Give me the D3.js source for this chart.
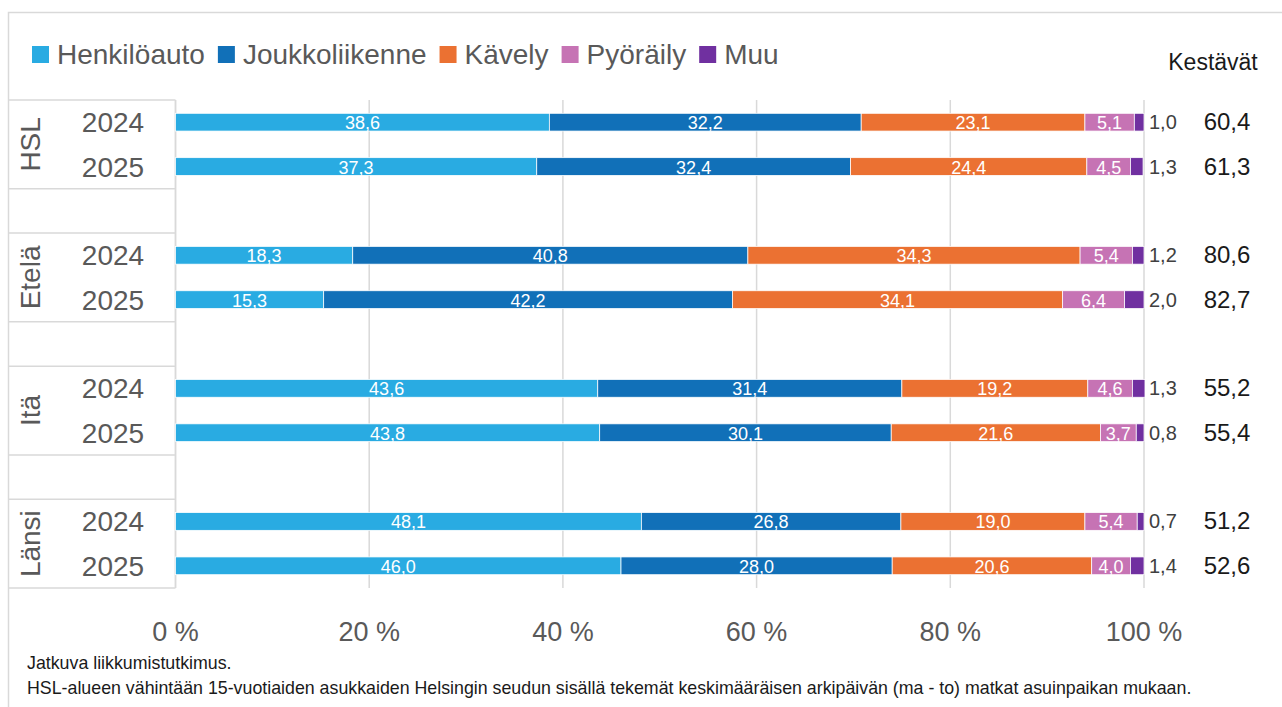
<!DOCTYPE html>
<html>
<head>
<meta charset="utf-8">
<script src="https://cdn.jsdelivr.net/npm/d3@7"></script>
<style>
  body { margin: 0; background: #fff; }
  text { font-family: "Liberation Sans", Arial, sans-serif; }
</style>
</head>
<body>
<script>
// categories
const groups = ['HSL', 'Etelä', 'Itä', 'Länsi']
const years = ['2024', '2025']
const modes = ['Henkilöauto', 'Joukkoliikenne', 'Kävely', 'Pyöräily', 'Muu']
const colors = ['#29ABE2', '#1170B8', '#EB7132', '#C673B4', '#7030A0']

// series values, rows = group/year in order above
const henkiloauto    = [38.6, 37.3, 18.3, 15.3, 43.6, 43.8, 48.1, 46.0]
const joukkoliikenne = [32.2, 32.4, 40.8, 42.2, 31.4, 30.1, 26.8, 28.0]
const kavely         = [23.1, 24.4, 34.3, 34.1, 19.2, 21.6, 19.0, 20.6]
const pyoraily       = [5.1, 4.5, 5.4, 6.4, 4.6, 3.7, 5.4, 4.0]
const muu            = [1.0, 1.3, 1.2, 2.0, 1.3, 0.8, 0.7, 1.4]
const kestavat       = [60.4, 61.3, 80.6, 82.7, 55.2, 55.4, 51.2, 52.6]

const xTicks = [0, 20, 40, 60, 80, 100]

const footer = [
    'Jatkuva liikkumistutkimus.',
    'HSL-alueen vähintään 15-vuotiaiden  asukkaiden Helsingin seudun sisällä tekemät keskimääräisen arkipäivän (ma - to) matkat asuinpaikan mukaan.'
]

const w = 1282
const h = 707
const fmt = v => v.toFixed(1).replace('.', ',')

const svg = d3.select('body')
    .append('svg')
    .attr('width', w)
    .attr('height', h)

// outer frame
svg.append('path')
    .attr('d', `M8.5,${h} V12.5 H${w}`)
    .style('fill', 'none')
    .style('stroke', '#d9d9d9')
    .style('stroke-width', 1.5)

// rows: each group has two years, then a gap slot
const slots = []
groups.forEach((g, gi) => {
    years.forEach(y => slots.push(g + '|' + y))
    if (gi < groups.length - 1) slots.push('gap' + gi)
})

const y = d3.scaleBand()
    .domain(slots)
    .range([100, 588])
    .paddingInner(0.6)
    .paddingOuter(0.3)

const x = d3.scaleLinear()
    .domain([0, 100])
    .range([175.5, 1144])

// gridlines
svg.selectAll('.grid')
    .data(xTicks)
    .enter()
    .append('line')
    .attr('x1', d => x(d))
    .attr('x2', d => x(d))
    .attr('y1', 100)
    .attr('y2', 588)
    .style('stroke', '#d9d9d9')
    .style('stroke-width', 1.5)

// x axis labels
svg.selectAll('.xlab')
    .data(xTicks)
    .enter()
    .append('text')
    .attr('x', d => x(d))
    .attr('y', 641)
    .attr('text-anchor', 'middle')
    .style('font-size', '27px')
    .style('fill', '#595959')
    .text(d => d + ' %')

// rows data
const rows = []
groups.forEach((g, gi) => {
    years.forEach((yr, yi) => {
        const i = gi * 2 + yi
        const vals = [henkiloauto[i], joukkoliikenne[i], kavely[i], pyoraily[i], muu[i]]
        let acc = 0
        const segs = vals.map((v, k) => {
            const s = { v: v, x0: acc, x1: acc + v, k: k }
            acc += v
            return s
        })
        rows.push({ key: g + '|' + yr, group: g, year: yr, segs: segs, kest: kestavat[i] })
    })
})

// category table on the left
const step = y.step()
groups.forEach((g, gi) => {
    const top = 100 + gi * 3 * step
    const bottom = top + 2 * step
    svg.append('line')
        .attr('x1', 8).attr('x2', 175.5)
        .attr('y1', top).attr('y2', top)
        .style('stroke', '#d9d9d9').style('stroke-width', 1.5)
    svg.append('line')
        .attr('x1', 8).attr('x2', 175.5)
        .attr('y1', bottom).attr('y2', bottom)
        .style('stroke', '#d9d9d9').style('stroke-width', 1.5)
    svg.append('text')
        .attr('transform', `translate(40,${(top + bottom) / 2}) rotate(-90)`)
        .attr('text-anchor', 'middle')
        .style('font-size', '28px')
        .style('fill', '#595959')
        .text(g)
})
svg.append('line')
    .attr('x1', 175.5).attr('x2', 175.5)
    .attr('y1', 100).attr('y2', 588)
    .style('stroke', '#d9d9d9').style('stroke-width', 1.5)

// year labels
svg.selectAll('.year')
    .data(rows)
    .enter()
    .append('text')
    .attr('x', 113)
    .attr('y', d => y(d.key) + y.bandwidth() / 2 + 10)
    .attr('text-anchor', 'middle')
    .style('font-size', '28px')
    .style('fill', '#595959')
    .text(d => d.year)

// bars
const rowG = svg.selectAll('.row')
    .data(rows)
    .enter()
    .append('g')
    .attr('transform', d => `translate(0,${y(d.key)})`)

rowG.selectAll('rect')
    .data(d => d.segs)
    .enter()
    .append('rect')
    .attr('x', d => x(d.x0))
    .attr('width', d => x(d.x1) - x(d.x0))
    .attr('height', y.bandwidth())
    .style('fill', d => colors[d.k])
    .style('stroke', '#fff')
    .style('stroke-width', 0.75)

// labels inside bars
rowG.selectAll('.lab')
    .data(d => d.segs.filter(s => s.k < 4))
    .enter()
    .append('text')
    .attr('x', d => (x(d.x0) + x(d.x1)) / 2)
    .attr('y', y.bandwidth() / 2 + 7)
    .attr('text-anchor', 'middle')
    .style('font-size', '18px')
    .style('fill', '#fff')
    .text(d => fmt(d.v))

// Muu value outside
rowG.append('text')
    .attr('x', 1149)
    .attr('y', y.bandwidth() / 2 + 7)
    .style('font-size', '20px')
    .style('fill', '#404040')
    .text(d => fmt(d.segs[4].v))

// Kestävät
rowG.append('text')
    .attr('x', 1227)
    .attr('y', y.bandwidth() / 2 + 8)
    .attr('text-anchor', 'middle')
    .style('font-size', '24px')
    .style('fill', '#1a1a1a')
    .text(d => fmt(d.kest))

svg.append('text')
    .attr('x', 1213)
    .attr('y', 70)
    .attr('text-anchor', 'middle')
    .style('font-size', '23px')
    .style('fill', '#1a1a1a')
    .text('Kestävät')

// legend
let lx = 32
modes.forEach((m, i) => {
    svg.append('rect')
        .attr('x', lx)
        .attr('y', 46)
        .attr('width', 17)
        .attr('height', 17)
        .style('fill', colors[i])
    const t = svg.append('text')
        .attr('x', lx + 25)
        .attr('y', 64)
        .style('font-size', '28px')
        .style('fill', '#595959')
        .text(m)
    lx += 25 + t.node().getComputedTextLength() + 13
})

// footer
svg.selectAll('.foot')
    .data(footer)
    .enter()
    .append('text')
    .attr('x', 27)
    .attr('y', (d, i) => 669 + i * 25)
    .style('font-size', '17.8px')
    .style('fill', '#1a1a1a')
    .text(d => d)
</script>
</body>
</html>
